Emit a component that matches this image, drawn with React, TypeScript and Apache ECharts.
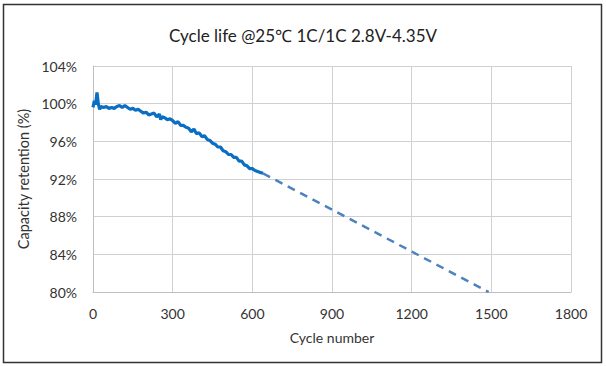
import React, { useEffect, useRef } from "react";
import * as echarts from "echarts";

const cycles = [0, 5, 10, 15, 20, 25, 30, 40, 50, 60, 70, 80, 90, 100, 110, 120, 130, 140, 150, 160, 170, 180, 190, 200, 210, 220, 230, 240, 250, 255, 260, 270, 280, 290, 300, 310, 320, 330, 340, 350, 360, 370, 380, 390, 400, 410, 420, 430, 440, 450, 460, 470, 480, 490, 500, 510, 520, 530, 540, 550, 560, 570, 580, 590, 600, 610, 620, 630, 640];
const retention = [99.6, 100.3, 99.9, 101.2, 100.0, 99.4, 99.7, 99.6, 99.7, 99.5, 99.6, 99.5, 99.7, 99.8, 99.6, 99.8, 99.6, 99.4, 99.5, 99.3, 99.4, 99.2, 99.0, 99.1, 98.8, 98.9, 99.0, 98.6, 98.9, 98.3, 98.6, 98.5, 98.3, 98.4, 98.2, 97.9, 98.1, 97.7, 97.7, 97.5, 97.4, 97.0, 97.3, 96.8, 96.9, 96.5, 96.6, 96.2, 96.1, 95.8, 95.7, 95.4, 95.4, 95.0, 94.9, 94.6, 94.6, 94.3, 94.3, 93.9, 93.9, 93.5, 93.4, 93.1, 93.1, 92.9, 92.8, 92.7, 92.6];
const projCycles = [640, 1490];
const projRetention = [92.6, 80];

export default function App() {
  const ref = useRef<HTMLDivElement>(null);
  useEffect(() => {
    const chart = echarts.init(ref.current!, undefined, { renderer: "svg" });
    const font = "Lato, 'Open Sans', sans-serif";
    chart.setOption({
      animation: false,
      backgroundColor: "#ffffff",
      title: {
        text: "Cycle life @25\u2103 1C/1C 2.8V-4.35V",
        left: "center",
        top: 22,
        textStyle: { fontFamily: font, fontSize: 17, fontWeight: "normal", color: "#222" },
      },
      graphic: [
        {
          type: "rect",
          shape: { x: 3.5, y: 4.5, width: 598, height: 358 },
          style: { fill: "none", stroke: "#333", lineWidth: 1.5 },
          silent: true,
        },
      ],
      grid: { left: 93, right: 35, top: 66, bottom: 74 },
      xAxis: {
        type: "value",
        min: 0,
        max: 1800,
        interval: 300,
        name: "Cycle number",
        nameLocation: "middle",
        nameGap: 38,
        nameTextStyle: { fontFamily: font, fontSize: 14, color: "#333" },
        axisLine: { show: true, lineStyle: { color: "#bfbfbf" } },
        axisTick: { show: false },
        axisLabel: { fontFamily: font, fontSize: 14, color: "#333", margin: 14, formatter: (v: number) => String(v) },
        splitLine: { show: true, lineStyle: { color: "#d0d0d0" } },
      },
      yAxis: {
        type: "value",
        min: 80,
        max: 104,
        interval: 4,
        name: "Capacity retention (%)",
        nameLocation: "middle",
        nameGap: 57,
        nameTextStyle: { fontFamily: font, fontSize: 14.5, color: "#333" },
        axisLine: { show: true, lineStyle: { color: "#bfbfbf" } },
        axisTick: { show: false },
        axisLabel: { fontFamily: font, fontSize: 14, color: "#333", margin: 16, formatter: (v: number) => `${v}%` },
        splitLine: { show: true, lineStyle: { color: "#d0d0d0" } },
      },
      series: [
        {
          type: "line",
          data: cycles.map((c, i) => [c, retention[i]]),
          showSymbol: false,
          lineStyle: { color: "#0a6fc2", width: 3.2 },
          z: 3,
        },
        {
          type: "line",
          data: projCycles.map((c, i) => [c, projRetention[i]]),
          showSymbol: false,
          lineStyle: { color: "#4d82c0", width: 2.5, type: [8, 6] },
          z: 2,
        },
      ],
    });
    return () => chart.dispose();
  }, []);
  return <div ref={ref} style={{ position: "fixed", left: 0, top: 0, width: 606, height: 366 }} />;
}
